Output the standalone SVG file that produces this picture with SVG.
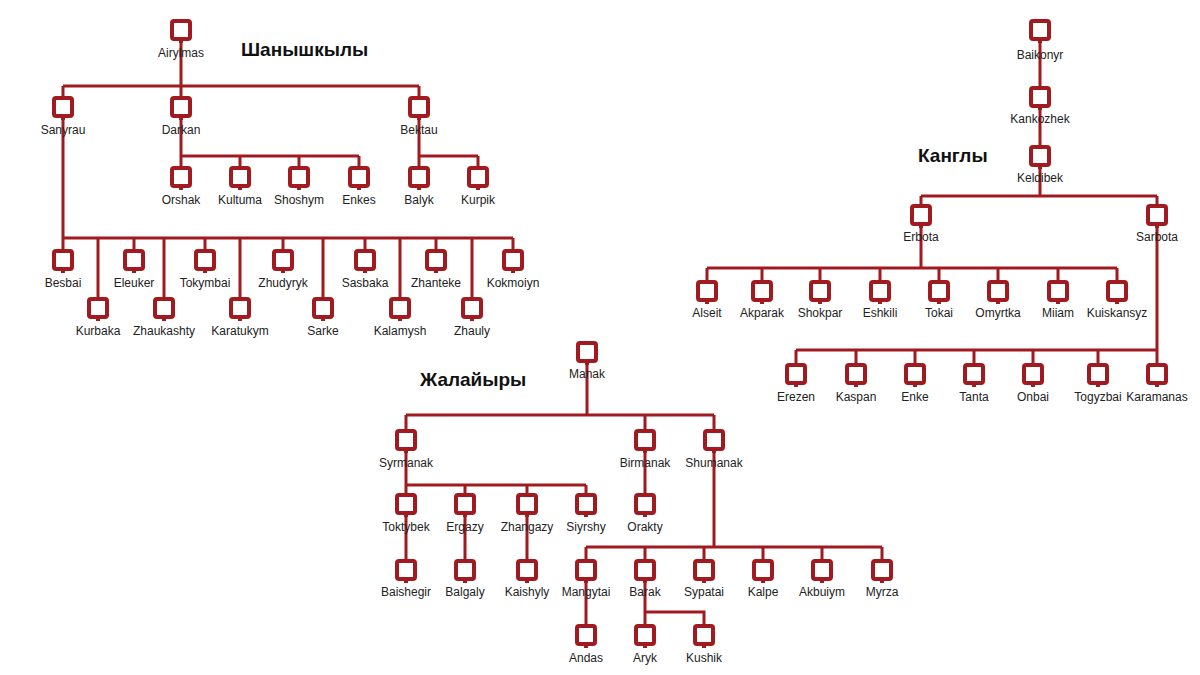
<svg xmlns="http://www.w3.org/2000/svg" xmlns:xlink="http://www.w3.org/1999/xlink" width="1200" height="675" viewBox="0 0 1200 675">
<style>
.l{stroke:#a01a1f;stroke-width:3;fill:none}
.t{font-family:"Liberation Sans",Arial,sans-serif;font-size:12px;fill:#222;text-anchor:middle}
.h{font-family:"Liberation Sans",Arial,sans-serif;font-size:19px;font-weight:bold;fill:#111}
</style>
<defs>
<g id="n"><rect x="-9" y="0" width="18" height="18" rx="2" fill="#fff" stroke="#a01a1f" stroke-width="4"/><rect x="-2" y="19" width="4" height="3" fill="#a01a1f"/></g>
</defs>
<rect width="1200" height="675" fill="#fff"/>
<g id="connectors" class="l">
<path d="M181 40V86M63 86H419M63 86V97M181 86V97M419 86V97"/>
<path d="M181 117V156H359M181 156V167M240 156V167M299 156V167M359 156V167"/>
<path d="M419 117V156H478M419 156V167M478 156V167"/>
<path d="M63 117V238H513M63 238V250M134 238V250M205 238V250M283 238V250M365 238V250M436 238V250M513 238V250M98 238V298M164 238V298M240 238V298M323 238V298M400 238V298M472 238V298"/>
<path d="M1040 40V87M1040 107V146M1040 166V196M921 196H1157M921 196V205M1157 196V205"/>
<path d="M921 225V268M707 268H1117M707 268V281M762 268V281M820 268V281M880 268V281M939 268V281M998 268V281M1058 268V281M1117 268V281"/>
<path d="M1157 225V350M796 350H1157M796 350V364M856 350V364M915 350V364M974 350V364M1033 350V364M1098 350V364M1157 350V364"/>
<path d="M587 362V415M406 415H714M406 415V430M645 415V430M714 415V430"/>
<path d="M406 450V485H586M406 485V494M465 485V494M527 485V494M586 485V494M645 450V494"/>
<path d="M406 514V560M465 514V560M527 514V560"/>
<path d="M714 450V547M586 547H882M586 547V560M645 547V560M704 547V560M763 547V560M822 547V560M882 547V560"/>
<path d="M586 580V625M645 580V612H704V625M645 612V625"/>
</g>
<text class="h" x="241" y="56">Шанышкылы</text>
<text class="h" x="918" y="162">Канглы</text>
<text class="h" x="420" y="386">Жалайыры</text>
<g id="Airylmas"><use xlink:href="#n" x="181" y="21"/><text class="t" x="181" y="57">Airylmas</text></g>
<g id="Sanyrau"><use xlink:href="#n" x="63" y="98"/><text class="t" x="63" y="134">Sanyrau</text></g>
<g id="Darkan"><use xlink:href="#n" x="181" y="98"/><text class="t" x="181" y="134">Darkan</text></g>
<g id="Bektau"><use xlink:href="#n" x="419" y="98"/><text class="t" x="419" y="134">Bektau</text></g>
<g id="Orshak"><use xlink:href="#n" x="181" y="168"/><text class="t" x="181" y="204">Orshak</text></g>
<g id="Kultuma"><use xlink:href="#n" x="240" y="168"/><text class="t" x="240" y="204">Kultuma</text></g>
<g id="Shoshym"><use xlink:href="#n" x="299" y="168"/><text class="t" x="299" y="204">Shoshym</text></g>
<g id="Enkes"><use xlink:href="#n" x="359" y="168"/><text class="t" x="359" y="204">Enkes</text></g>
<g id="Balyk"><use xlink:href="#n" x="419" y="168"/><text class="t" x="419" y="204">Balyk</text></g>
<g id="Kurpik"><use xlink:href="#n" x="478" y="168"/><text class="t" x="478" y="204">Kurpik</text></g>
<g id="Besbai"><use xlink:href="#n" x="63" y="251"/><text class="t" x="63" y="287">Besbai</text></g>
<g id="Eleuker"><use xlink:href="#n" x="134" y="251"/><text class="t" x="134" y="287">Eleuker</text></g>
<g id="Tokymbai"><use xlink:href="#n" x="205" y="251"/><text class="t" x="205" y="287">Tokymbai</text></g>
<g id="Zhudyryk"><use xlink:href="#n" x="283" y="251"/><text class="t" x="283" y="287">Zhudyryk</text></g>
<g id="Sasbaka"><use xlink:href="#n" x="365" y="251"/><text class="t" x="365" y="287">Sasbaka</text></g>
<g id="Zhanteke"><use xlink:href="#n" x="436" y="251"/><text class="t" x="436" y="287">Zhanteke</text></g>
<g id="Kokmoiyn"><use xlink:href="#n" x="513" y="251"/><text class="t" x="513" y="287">Kokmoiyn</text></g>
<g id="Kurbaka"><use xlink:href="#n" x="98" y="299"/><text class="t" x="98" y="335">Kurbaka</text></g>
<g id="Zhaukashty"><use xlink:href="#n" x="164" y="299"/><text class="t" x="164" y="335">Zhaukashty</text></g>
<g id="Karatukym"><use xlink:href="#n" x="240" y="299"/><text class="t" x="240" y="335">Karatukym</text></g>
<g id="Sarke"><use xlink:href="#n" x="323" y="299"/><text class="t" x="323" y="335">Sarke</text></g>
<g id="Kalamysh"><use xlink:href="#n" x="400" y="299"/><text class="t" x="400" y="335">Kalamysh</text></g>
<g id="Zhauly"><use xlink:href="#n" x="472" y="299"/><text class="t" x="472" y="335">Zhauly</text></g>
<g id="Baikonyr"><use xlink:href="#n" x="1040" y="21"/><text class="t" x="1040" y="59">Baikonyr</text></g>
<g id="Kankozhek"><use xlink:href="#n" x="1040" y="88"/><text class="t" x="1040" y="123">Kankozhek</text></g>
<g id="Keldibek"><use xlink:href="#n" x="1040" y="147"/><text class="t" x="1040" y="182">Keldibek</text></g>
<g id="Erbota"><use xlink:href="#n" x="921" y="206"/><text class="t" x="921" y="241">Erbota</text></g>
<g id="Sarbota"><use xlink:href="#n" x="1157" y="206"/><text class="t" x="1157" y="241">Sarbota</text></g>
<g id="Alseit"><use xlink:href="#n" x="707" y="282"/><text class="t" x="707" y="317">Alseit</text></g>
<g id="Akparak"><use xlink:href="#n" x="762" y="282"/><text class="t" x="762" y="317">Akparak</text></g>
<g id="Shokpar"><use xlink:href="#n" x="820" y="282"/><text class="t" x="820" y="317">Shokpar</text></g>
<g id="Eshkili"><use xlink:href="#n" x="880" y="282"/><text class="t" x="880" y="317">Eshkili</text></g>
<g id="Tokai"><use xlink:href="#n" x="939" y="282"/><text class="t" x="939" y="317">Tokai</text></g>
<g id="Omyrtka"><use xlink:href="#n" x="998" y="282"/><text class="t" x="998" y="317">Omyrtka</text></g>
<g id="Miiam"><use xlink:href="#n" x="1058" y="282"/><text class="t" x="1058" y="317">Miiam</text></g>
<g id="Kuiskansyz"><use xlink:href="#n" x="1117" y="282"/><text class="t" x="1117" y="317">Kuiskansyz</text></g>
<g id="Erezen"><use xlink:href="#n" x="796" y="365"/><text class="t" x="796" y="401">Erezen</text></g>
<g id="Kaspan"><use xlink:href="#n" x="856" y="365"/><text class="t" x="856" y="401">Kaspan</text></g>
<g id="Enke"><use xlink:href="#n" x="915" y="365"/><text class="t" x="915" y="401">Enke</text></g>
<g id="Tanta"><use xlink:href="#n" x="974" y="365"/><text class="t" x="974" y="401">Tanta</text></g>
<g id="Onbai"><use xlink:href="#n" x="1033" y="365"/><text class="t" x="1033" y="401">Onbai</text></g>
<g id="Togyzbai"><use xlink:href="#n" x="1098" y="365"/><text class="t" x="1098" y="401">Togyzbai</text></g>
<g id="Karamanas"><use xlink:href="#n" x="1157" y="365"/><text class="t" x="1157" y="401">Karamanas</text></g>
<g id="Manak"><use xlink:href="#n" x="587" y="343"/><text class="t" x="587" y="378">Manak</text></g>
<g id="Syrmanak"><use xlink:href="#n" x="406" y="431"/><text class="t" x="406" y="467">Syrmanak</text></g>
<g id="Birmanak"><use xlink:href="#n" x="645" y="431"/><text class="t" x="645" y="467">Birmanak</text></g>
<g id="Shumanak"><use xlink:href="#n" x="714" y="431"/><text class="t" x="714" y="467">Shumanak</text></g>
<g id="Toktybek"><use xlink:href="#n" x="406" y="495"/><text class="t" x="406" y="531">Toktybek</text></g>
<g id="Ergazy"><use xlink:href="#n" x="465" y="495"/><text class="t" x="465" y="531">Ergazy</text></g>
<g id="Zhangazy"><use xlink:href="#n" x="527" y="495"/><text class="t" x="527" y="531">Zhangazy</text></g>
<g id="Siyrshy"><use xlink:href="#n" x="586" y="495"/><text class="t" x="586" y="531">Siyrshy</text></g>
<g id="Orakty"><use xlink:href="#n" x="645" y="495"/><text class="t" x="645" y="531">Orakty</text></g>
<g id="Baishegir"><use xlink:href="#n" x="406" y="561"/><text class="t" x="406" y="596">Baishegir</text></g>
<g id="Balgaly"><use xlink:href="#n" x="465" y="561"/><text class="t" x="465" y="596">Balgaly</text></g>
<g id="Kaishyly"><use xlink:href="#n" x="527" y="561"/><text class="t" x="527" y="596">Kaishyly</text></g>
<g id="Mangytai"><use xlink:href="#n" x="586" y="561"/><text class="t" x="586" y="596">Mangytai</text></g>
<g id="Barak"><use xlink:href="#n" x="645" y="561"/><text class="t" x="645" y="596">Barak</text></g>
<g id="Sypatai"><use xlink:href="#n" x="704" y="561"/><text class="t" x="704" y="596">Sypatai</text></g>
<g id="Kalpe"><use xlink:href="#n" x="763" y="561"/><text class="t" x="763" y="596">Kalpe</text></g>
<g id="Akbuiym"><use xlink:href="#n" x="822" y="561"/><text class="t" x="822" y="596">Akbuiym</text></g>
<g id="Myrza"><use xlink:href="#n" x="882" y="561"/><text class="t" x="882" y="596">Myrza</text></g>
<g id="Andas"><use xlink:href="#n" x="586" y="626"/><text class="t" x="586" y="662">Andas</text></g>
<g id="Aryk"><use xlink:href="#n" x="645" y="626"/><text class="t" x="645" y="662">Aryk</text></g>
<g id="Kushik"><use xlink:href="#n" x="704" y="626"/><text class="t" x="704" y="662">Kushik</text></g>
</svg>
